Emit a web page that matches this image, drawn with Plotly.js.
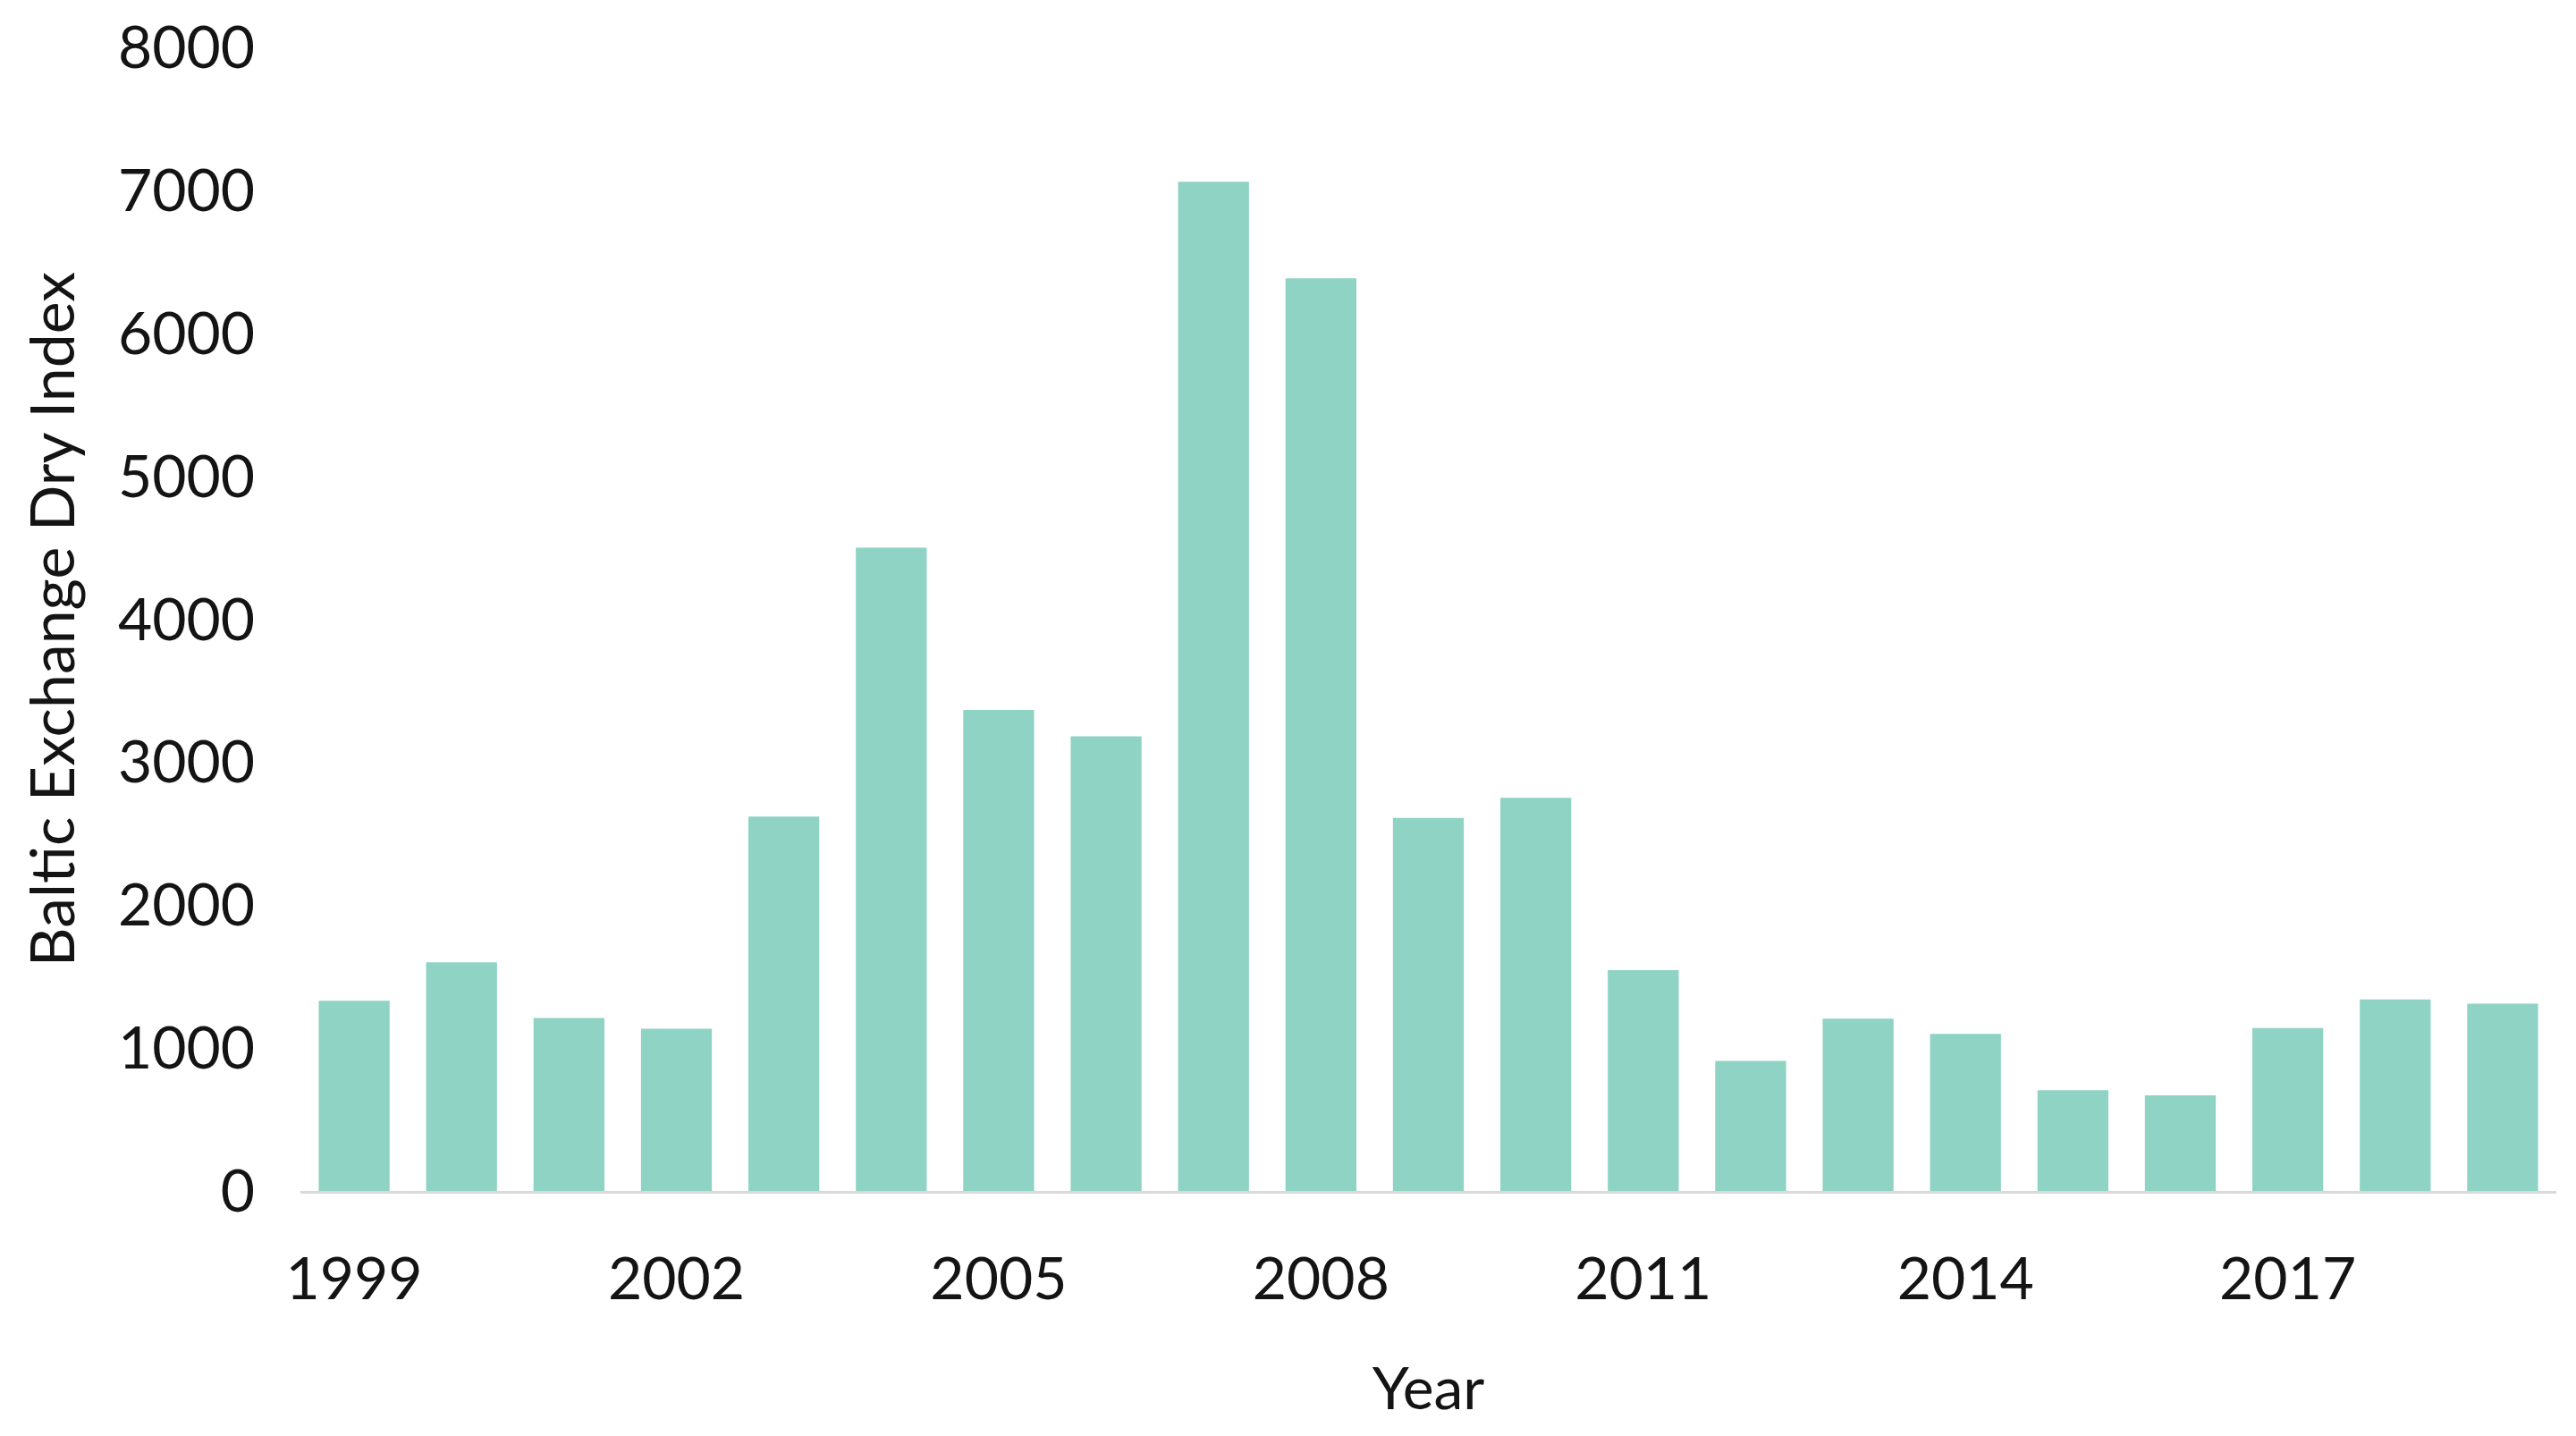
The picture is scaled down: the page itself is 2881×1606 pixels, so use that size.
<!DOCTYPE html>
<html>
<head>
<meta charset="utf-8">
<script src="https://cdn.plot.ly/plotly-3.0.1.min.js"></script>
<style>
  html, body { margin: 0; padding: 0; background: #ffffff; }
  #chart { width: 2881px; height: 1606px; }
</style>
</head>
<body>
<div id="chart"></div>
<script>
const years = [1999, 2000, 2001, 2002, 2003, 2004, 2005, 2006, 2007, 2008, 2009,
               2010, 2011, 2012, 2013, 2014, 2015, 2016, 2017, 2018, 2019];
const bdiValues = [1330, 1600, 1210, 1135, 2620, 4500, 3365, 3180, 7060, 6385, 2610,
                   2750, 1545, 910, 1205, 1100, 705, 670, 1140, 1340, 1310];
const xTickYears = [1999, 2002, 2005, 2008, 2011, 2014, 2017];
const yTickValues = [0, 1000, 2000, 3000, 4000, 5000, 6000, 7000, 8000];

const fontFamily = 'Lato, "Open Sans", sans-serif';
const textColor = '#141414';

const trace = {
  type: 'bar',
  x: years,
  y: bdiValues,
  marker: { color: '#8FD3C5', line: { width: 0 } },
  hoverinfo: 'x+y'
};

const layout = {
  width: 2881,
  height: 1606,
  margin: { l: 336, r: 22, t: 53, b: 274 },
  paper_bgcolor: '#ffffff',
  plot_bgcolor: '#ffffff',
  bargap: 0.34,
  showlegend: false,
  font: { family: fontFamily, size: 66, color: textColor },
  xaxis: {
    range: [1998.5, 2019.5],
    tickmode: 'array',
    tickvals: xTickYears,
    ticktext: xTickYears.map(String),
    showgrid: false,
    zeroline: false,
    showline: true,
    linecolor: '#d9d9d9',
    linewidth: 3,
    ticks: '',
    ticklabelstandoff: 39,
    tickfont: { family: fontFamily, size: 66, color: textColor },
    title: { text: 'Year', font: { family: fontFamily, size: 66, color: textColor }, standoff: 64 },
    automargin: false
  },
  yaxis: {
    range: [0, 8000],
    tickmode: 'array',
    tickvals: yTickValues,
    ticktext: yTickValues.map(String),
    showgrid: false,
    zeroline: false,
    showline: false,
    ticks: '',
    ticklabelstandoff: 50,
    tickfont: { family: fontFamily, size: 66, color: textColor },
    title: { text: 'Baltic Exchange Dry Index', font: { family: fontFamily, size: 68, color: textColor }, standoff: 26 },
    automargin: false
  }
};

Plotly.newPlot('chart', [trace], layout, { displayModeBar: false, staticPlot: true });
</script>
</body>
</html>
